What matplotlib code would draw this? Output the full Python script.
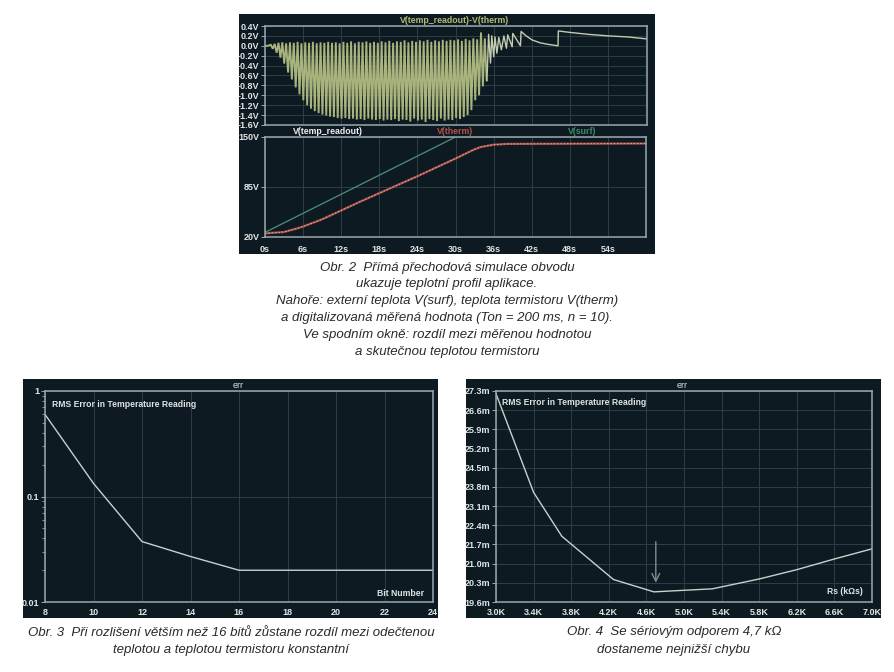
#!/usr/bin/env python3
"""Obr. 2-4: LTspice screenshots of the thermistor simulation, redrawn."""
import matplotlib
matplotlib.use("Agg")
import matplotlib.pyplot as plt
from matplotlib.patches import Rectangle

W, H = 894, 672
BG = "#0e1a21"
FRAME = "#9aa8ae"
GRID = "#303e45"
TXT = "#dfe4e4"
TRACE = "#c9d0cc"

plt.rcParams["font.family"] = ["Liberation Sans", "DejaVu Sans"]

# panel 1: V(temp_readout)-V(therm), one peak and one trough per sample
spike_t = [1.0, 1.6, 2.2, 2.8, 3.4, 4.0, 4.6, 5.2, 5.8, 6.4, 7.0, 7.6, 8.2, 8.8, 9.4,
           10.0, 10.6, 11.2, 11.8, 12.4, 13.0, 13.6, 14.2, 14.8, 15.4, 16.0, 16.6,
           17.2, 17.8, 18.4, 19.0, 19.6, 20.2, 20.8, 21.4, 22.0, 22.6, 23.2, 23.8,
           24.4, 25.0, 25.6, 26.2, 26.8, 27.4, 28.0, 28.6, 29.2, 29.8, 30.4, 31.0,
           31.6, 32.2, 32.8, 33.4, 34.0, 34.6]
spike_hi = [0.02, 0.04, 0.06, 0.07, 0.05, 0.07, 0.06, 0.08, 0.05, 0.07, 0.06, 0.08,
            0.05, 0.07, 0.06, 0.08, 0.06, 0.07, 0.05, 0.08, 0.06, 0.09, 0.05, 0.08,
            0.07, 0.09, 0.06, 0.08, 0.06, 0.09, 0.07, 0.10, 0.06, 0.09, 0.08, 0.11,
            0.07, 0.10, 0.08, 0.11, 0.09, 0.12, 0.08, 0.11, 0.09, 0.12, 0.10, 0.12,
            0.11, 0.13, 0.10, 0.14, 0.11, 0.15, 0.13, 0.27, 0.15]
spike_lo = [-0.06, -0.14, -0.24, -0.36, -0.54, -0.68, -0.84, -0.98, -1.10, -1.20,
            -1.27, -1.32, -1.36, -1.39, -1.41, -1.43, -1.44, -1.46, -1.47, -1.46,
            -1.48, -1.47, -1.49, -1.48, -1.50, -1.47, -1.49, -1.50, -1.48, -1.51,
            -1.49, -1.50, -1.48, -1.52, -1.49, -1.50, -1.53, -1.47, -1.51, -1.49,
            -1.54, -1.48, -1.50, -1.52, -1.47, -1.51, -1.49, -1.50, -1.46, -1.48,
            -1.44, -1.40, -1.30, -1.10, -1.00, -0.82, -0.70]
tail_t = [35.0, 35.2, 35.5, 35.7, 36.0, 36.2, 36.5, 36.8, 37.2, 37.6, 38.0, 38.2, 38.9,
          39.0, 40.2, 40.3, 41.0, 42.0, 43.3, 44.5, 46.1, 46.15, 48.0, 51.0, 54.0, 57.0, 60.0]
tail_v = [-0.50, 0.23, -0.35, 0.20, -0.22, 0.18, -0.15, 0.17, -0.08, 0.20, -0.05, 0.22,
          -0.02, 0.25, 0.00, 0.29, 0.21, 0.12, 0.06, 0.03, 0.00, 0.30, 0.27, 0.23, 0.20, 0.18, 0.14]
lead_t = [0.0, 0.5]
lead_v = [0.0, 0.0]
diff_ticks = [0.4, 0.2, 0.0, -0.2, -0.4, -0.6, -0.8, -1.0, -1.2, -1.4, -1.6]

# panel 2: temperatures
time_ticks = [0, 6, 12, 18, 24, 30, 36, 42, 48, 54]
surf_t = [0, 30]
surf_v = [26, 150]
therm_t = [0, 3, 5, 6, 9, 12, 15, 18, 21, 24, 27, 30, 32, 33, 34, 36, 38, 60]
therm_v = [24.7, 26.5, 31, 33.6, 43, 54.5, 66, 77, 88, 99, 110.5, 122, 130, 134, 137, 140, 141, 141.5]
temp_ticks = [20, 85, 150]

# panel 3: error vs. bit number
bits = [8, 10, 12, 14, 16, 24]
err_bits = [0.6, 0.133, 0.0374, 0.027, 0.02, 0.02]
bit_ticks = [8, 10, 12, 14, 16, 18, 20, 22, 24]

# panel 4: error vs. series resistor
rs = [3.0, 3.2, 3.4, 3.7, 4.25, 4.68, 5.3, 5.8, 6.2, 6.6, 7.0]
err_rs = [27.2, 25.4, 23.6, 22.0, 20.42, 19.97, 20.08, 20.44, 20.78, 21.17, 21.54]
rs_ticks = [3.0, 3.4, 3.8, 4.2, 4.6, 5.0, 5.4, 5.8, 6.2, 6.6, 7.0]
mv_ticks = [19.6, 20.3, 21.0, 21.7, 22.4, 23.1, 23.8, 24.5, 25.2, 25.9, 26.6, 27.3]

CAP2 = ["Obr. 2  Přímá přechodová simulace obvodu",
        "ukazuje teplotní profil aplikace.",
        "Nahoře: externí teplota V(surf), teplota termistoru V(therm)",
        "a digitalizovaná měřená hodnota (Ton = 200 ms, n = 10).",
        "Ve spodním okně: rozdíl mezi měřenou hodnotou",
        "a skutečnou teplotou termistoru"]
CAP2_Y = [268, 284, 301, 318, 335, 352]
CAP3 = ["Obr. 3  Při rozlišení větším než 16 bitů zůstane rozdíl mezi odečtenou",
        "teplotou a teplotou termistoru konstantní"]
CAP4 = ["Obr. 4  Se sériovým odporem 4,7 kΩ", "dostaneme nejnižší chybu"]


def px_axes(fig, x0, y0, x1, y1):
    # box given in image pixels, y downwards
    return fig.add_axes([x0 / W, 1 - y1 / H, (x1 - x0) / W, (y1 - y0) / H])


def px_text(fig, x, y, s, **kw):
    kw.setdefault("va", "center")
    fig.text(x / W, 1 - y / H, s, **kw)


def backdrop(fig, x0, y0, x1, y1):
    fig.add_artist(Rectangle((x0 / W, 1 - y1 / H), (x1 - x0) / W, (y1 - y0) / H,
                             transform=fig.transFigure, facecolor=BG, edgecolor="none",
                             zorder=-5))


def style_ax(ax, fs=6.5):
    ax.set_facecolor(BG)
    for s in ax.spines.values():
        s.set_color(FRAME)
        s.set_linewidth(1.1)
    ax.grid(True, color=GRID, linewidth=0.7)
    ax.set_axisbelow(True)
    ax.tick_params(colors=TXT, labelsize=fs, length=3, width=0.7, pad=1, color=FRAME)
    for lab in ax.get_xticklabels() + ax.get_yticklabels():
        lab.set_fontweight("bold")


fig = plt.figure(figsize=(W / 100, H / 100), dpi=100, facecolor="white")
backdrop(fig, 239, 14, 655, 254)
backdrop(fig, 23, 379, 438, 618)
backdrop(fig, 466, 379, 881, 618)

# ---------------------------------------------- panel 1
ax = px_axes(fig, 264.5, 26, 646.5, 125)
xs, ys = list(lead_t), list(lead_v)
for t, hi, lo in zip(spike_t, spike_hi, spike_lo):
    xs += [t, t + 0.3]
    ys += [hi, lo]
ax.plot(xs, ys, color="#a8b47c", linewidth=1.35, solid_joinstyle="miter")
ax.plot(tail_t, tail_v, color="#c4cbb0", linewidth=1.0)
ax.plot([spike_t[-1] + 0.3, tail_t[0]], [spike_lo[-1], tail_v[0]], color="#c4cbb0", linewidth=1.0)
ax.set_xlim(0, 60)
ax.set_ylim(-1.6, 0.4)
ax.set_xticks(time_ticks)
ax.set_xticklabels([])
ax.set_yticks(diff_ticks)
ax.set_yticklabels([f"{v:.1f}V" for v in diff_ticks])
style_ax(ax)
ax.tick_params(axis="x", length=0)
px_text(fig, 455, 20.5, "V(temp_readout)-V(therm)", color="#b3bd74", fontsize=6.3,
        fontweight="bold", ha="center")

# ---------------------------------------------- panel 2
ax = px_axes(fig, 265, 137, 646, 237)
ax.plot(surf_t, surf_v, color="#4f8f78", linewidth=0.9)
ax.plot(therm_t, therm_v, color="#a84c44", linewidth=1.6)
ax.plot(therm_t, therm_v, color="#d8b8ae", linewidth=0.6, linestyle=(0, (2, 2)))
ax.set_xlim(0, 60)
ax.set_ylim(20, 150)
ax.set_xticks(time_ticks)
ax.set_xticklabels([f"{t}s" for t in time_ticks])
ax.set_yticks(temp_ticks)
ax.set_yticklabels([f"{v}V" for v in temp_ticks])
style_ax(ax)
ax.tick_params(axis="x", length=0, pad=6)
px_text(fig, 328, 131, "V(temp_readout)", color="#f0f0f0", fontsize=6.3, fontweight="bold", ha="center")
px_text(fig, 455, 131, "V(therm)", color="#b5534a", fontsize=6.3, fontweight="bold", ha="center")
px_text(fig, 582, 131, "V(surf)", color="#3f8a6c", fontsize=6.3, fontweight="bold", ha="center")

# ---------------------------------------------- panel 3
ax = px_axes(fig, 45, 391, 433, 602)
ax.semilogy(bits, err_bits, color=TRACE, linewidth=1.0)
ax.set_xlim(8, 24)
ax.set_ylim(0.01, 1)
ax.set_xticks(bit_ticks)
ax.set_xticklabels([str(b) for b in bit_ticks])
ax.set_yticks([0.01, 0.1, 1])
ax.set_yticklabels(["0.01", "0.1", "1"])
style_ax(ax)
ax.tick_params(axis="y", which="minor", colors=FRAME, length=2, width=0.6, labelleft=False)
ax.tick_params(axis="x", length=0, pad=4)
px_text(fig, 52.5, 404.5, "RMS Error in Temperature Reading", color=TXT, fontsize=6.2, fontweight="bold")
px_text(fig, 424, 593, "Bit Number", color=TXT, fontsize=6.2, fontweight="bold", ha="right")
px_text(fig, 238, 385, "err", color=TXT, fontsize=6.5, ha="center")

# ---------------------------------------------- panel 4
ax = px_axes(fig, 496, 391, 872, 602)
ax.plot(rs, err_rs, color=TRACE, linewidth=1.0)
ax.annotate("", xy=(4.7, 20.2), xytext=(4.7, 21.9),
            arrowprops=dict(arrowstyle="->", color="#7f8f85", linewidth=1.0, mutation_scale=14))
ax.set_xlim(3.0, 7.0)
ax.set_ylim(19.6, 27.3)
ax.set_xticks(rs_ticks)
ax.set_xticklabels([f"{r:.1f}K" for r in rs_ticks])
ax.set_yticks(mv_ticks)
ax.set_yticklabels([f"{v:.1f}m" for v in mv_ticks])
style_ax(ax)
ax.tick_params(axis="x", length=0, pad=4)
px_text(fig, 501.5, 402.5, "RMS Error in Temperature Reading", color=TXT, fontsize=6.2, fontweight="bold")
px_text(fig, 863, 592, "Rs (kΩs)", color=TXT, fontsize=6.2, fontweight="bold", ha="right")
px_text(fig, 682, 385, "err", color=TXT, fontsize=6.5, ha="center")

# ---------------------------------------------- captions
for line, y in zip(CAP2, CAP2_Y):
    px_text(fig, 447, y, line, color="#2a2a2a", fontsize=9.5, fontstyle="italic", ha="center")
for line, y in zip(CAP3, [632.5, 650]):
    px_text(fig, 231, y, line, color="#2a2a2a", fontsize=9.5, fontstyle="italic", ha="center")
for line, y in zip(CAP4, [632.5, 650]):
    px_text(fig, 674, y, line, color="#2a2a2a", fontsize=9.5, fontstyle="italic", ha="center")

fig.savefig("out.png", dpi=100)
